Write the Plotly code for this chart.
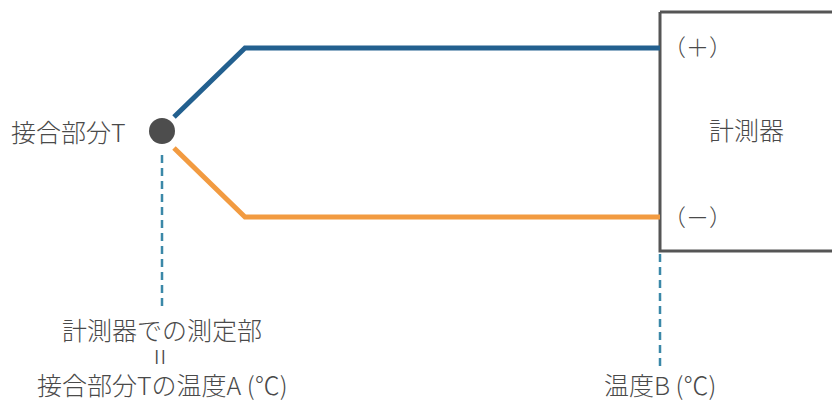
import plotly.graph_objects as go

# Diagram node positions (pixel-like coordinates, y down)
plus_wire_x = [174, 245, 660]
plus_wire_y = [117, 48, 48]
minus_wire_x = [174, 245, 660]
minus_wire_y = [148, 217, 217]
junction = (162, 131)
guide_a_x = [162, 162]
guide_a_y = [155, 308]
guide_b_x = [660, 660]
guide_b_y = [254, 366]
box_x = [660, 660, 850, 850, 660]
box_y = [12, 251, 251, 12, 12]

labels = {
    "junction": "接合部分T",
    "plus": "（＋）",
    "minus": "（－）",
    "meter": "計測器",
    "a1": "計測器での測定部",
    "eq": "=",
    "a2": "接合部分Tの温度A (℃)",
    "b": "温度B (℃)",
}

FONT = "Noto Sans CJK JP"
TXT = "#4a4a4a"

fig = go.Figure()
fig.add_trace(go.Scatter(x=box_x, y=box_y, mode="lines",
                         line=dict(color="#555555", width=3), hoverinfo="skip"))
fig.add_trace(go.Scatter(x=plus_wire_x, y=plus_wire_y, mode="lines",
                         line=dict(color="#23608f", width=5), hoverinfo="skip"))
fig.add_trace(go.Scatter(x=minus_wire_x, y=minus_wire_y, mode="lines",
                         line=dict(color="#f29b41", width=5), hoverinfo="skip"))
fig.add_trace(go.Scatter(x=guide_a_x, y=guide_a_y, mode="lines",
                         line=dict(color="#3b88a8", width=2.5, dash="8px,5px"), hoverinfo="skip"))
fig.add_trace(go.Scatter(x=guide_b_x, y=guide_b_y, mode="lines",
                         line=dict(color="#3b88a8", width=2.5, dash="8px,5px"), hoverinfo="skip"))
fig.add_trace(go.Scatter(x=[junction[0]], y=[junction[1]], mode="markers",
                         marker=dict(color="#4d4d4d", size=26, line=dict(width=0)), hoverinfo="skip"))

def ann(x, y, text, xanchor="center", angle=0, size=25):
    fig.add_annotation(x=x, y=y, text=text, showarrow=False, xanchor=xanchor, yanchor="middle",
                       textangle=angle, font=dict(family=FONT, size=size, color=TXT, weight=300))

ann(9, 131, labels["junction"], xanchor="left")
ann(661, 46, labels["plus"], xanchor="left", size=23)
ann(661, 216, labels["minus"], xanchor="left", size=23)
ann(746, 129, labels["meter"])
ann(162, 329, labels["a1"])
ann(162, 357, labels["eq"], angle=90, size=30)
ann(162, 384, labels["a2"])
ann(660, 384, labels["b"])

fig.update_layout(
    width=832, height=401, margin=dict(l=0, r=0, t=0, b=0),
    paper_bgcolor="white", plot_bgcolor="white", showlegend=False,
    xaxis=dict(range=[0, 832], visible=False, fixedrange=True),
    yaxis=dict(range=[401, 0], visible=False, fixedrange=True),
)
fig.write_html("out.html", config={"displayModeBar": False},
               post_script="document.body.style.margin='0';document.body.style.overflow='hidden';")
